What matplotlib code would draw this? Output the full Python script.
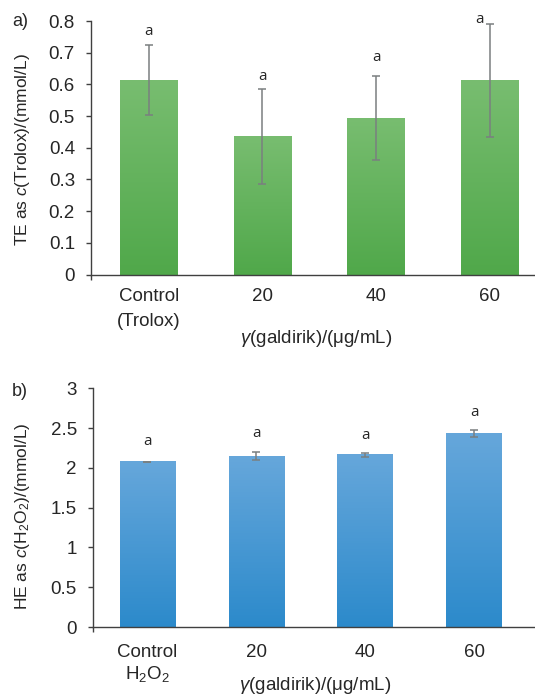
import numpy as np
import matplotlib
matplotlib.use('Agg')
import matplotlib.pyplot as plt
from matplotlib.colors import LinearSegmentedColormap
from matplotlib.ticker import FuncFormatter

plt.rcParams['font.family'] = ['Liberation Sans', 'DejaVu Sans']
plt.rcParams['mathtext.fontset'] = 'custom'
plt.rcParams['mathtext.rm'] = 'Liberation Sans'
plt.rcParams['mathtext.it'] = 'Liberation Sans:italic'

# dados
categorias_a = ['Control\n(Trolox)', '20', '40', '60']
te_medias = [0.613, 0.436, 0.493, 0.613]
te_erros = [0.110, 0.150, 0.133, 0.179]

categorias_b = ['Control\nH$_2$O$_2$', '20', '40', '60']
he_medias = [2.075, 2.150, 2.163, 2.433]
he_erros = [0.005, 0.047, 0.030, 0.047]

letras = ['a', 'a', 'a', 'a']

# deslocamento (pontos) do centro das letras acima da barra de erro
desloc_a = [(0, 10), (0, 8.6), (0, 13.7), (-7, 3)]
desloc_b = [(0, 14.4), (0, 13.7), (0, 12.2), (0, 12.2)]

cor_texto = '#262626'
cor_eixo = '#404040'
cor_erro = '#7a7f80'


def barras_gradiente(ax, x, alturas, cor_topo, cor_base, largura):
    cmap = LinearSegmentedColormap.from_list('g', [cor_base, cor_topo])
    grad = np.linspace(0, 1, 256).reshape(-1, 1)
    for xi, h in zip(x, alturas):
        ax.imshow(grad, cmap=cmap, origin='lower', aspect='auto',
                  extent=[xi - largura / 2, xi + largura / 2, 0, h], zorder=2)


def montar(ax, categorias, medias, erros, cor_topo, cor_base, ylim, passo,
           xlim, desloc, pad_x, espaco):
    x = np.arange(len(categorias))
    largura = 0.51
    barras_gradiente(ax, x, medias, cor_topo, cor_base, largura)
    ax.errorbar(x, medias, yerr=erros, fmt='none', ecolor=cor_erro,
                elinewidth=1.1, capsize=2.9, capthick=1.1, zorder=3)
    for xi, m, e, l, d in zip(x, medias, erros, letras, desloc):
        ax.annotate(l, (xi, m + e), xytext=d, textcoords='offset points',
                    ha='center', va='center', fontsize=11,
                    family=['Open Sans', 'DejaVu Sans'], color=cor_texto)
    ax.set_xlim(*xlim)
    ax.set_ylim(*ylim)
    ax.set_yticks(np.arange(ylim[0], ylim[1] + passo / 2, passo))
    ax.yaxis.set_major_formatter(FuncFormatter(lambda v, p: f'{v:g}'))
    ax.set_xticks(x)
    ax.set_xticklabels(categorias)
    for lbl in ax.get_xticklabels():
        lbl.set_linespacing(espaco)
    ax.set_xticks([xlim[0]], minor=True)
    ax.tick_params(axis='x', which='major', length=0, pad=pad_x,
                   labelsize=13.5, colors=cor_texto)
    ax.tick_params(axis='x', which='minor', length=3.6, width=1,
                   color=cor_eixo, direction='out')
    ax.tick_params(axis='y', length=3.6, width=1, color=cor_eixo, pad=8,
                   labelsize=13.5, labelcolor=cor_texto)
    for s in ['top', 'right']:
        ax.spines[s].set_visible(False)
    for s in ['left', 'bottom']:
        ax.spines[s].set_color(cor_eixo)
        ax.spines[s].set_linewidth(1)
    ax.spines['bottom'].set_zorder(4)
    ax.set_xlabel('$\\it{\\gamma}$(galdirik)/(μg/mL)', fontsize=13.5,
                  color=cor_texto, va='center')


fig = plt.figure(figsize=(5.35, 6.95), dpi=100)

ax1 = fig.add_axes([91 / 535, 1 - 274.6 / 695, 444 / 535, 253.6 / 695])
montar(ax1, categorias_a, te_medias, te_erros, '#78bd70', '#50a84a',
       (0, 0.8), 0.1, (-0.51, 3.4), desloc_a, 10, 1.55)
ax1.set_ylabel('TE as $c$(Trolox)/(mmol/L)', fontsize=12.5, color=cor_texto)

ax2 = fig.add_axes([93 / 535, 1 - 627 / 695, 442 / 535, 238.6 / 695])
montar(ax2, categorias_b, he_medias, he_erros, '#66a7db', '#2c8acb',
       (0, 3), 0.5, (-0.5, 3.56), desloc_b, 12, 1.2)
ax2.set_ylabel('HE as $c$(H$_2$O$_2$)/(mmol/L)', fontsize=12.5, color=cor_texto)

# posições dos rótulos em coordenadas de figura
ax1.yaxis.set_label_coords(32 / 535, 1 - 149 / 695, transform=fig.transFigure)
ax2.yaxis.set_label_coords(32 / 535, 1 - 516 / 695, transform=fig.transFigure)
ax1.xaxis.set_label_coords(316 / 535, 1 - 339 / 695, transform=fig.transFigure)
ax2.xaxis.set_label_coords(315 / 535, 1 - 686 / 695, transform=fig.transFigure)

fig.text(12 / 535, 1 - 22 / 695, 'a)', fontsize=13, color=cor_texto,
         va='center', ha='left')
fig.text(12 / 535, 1 - 391 / 695, 'b)', fontsize=13, color=cor_texto,
         va='center', ha='left')

fig.savefig('out.png', dpi=100)
